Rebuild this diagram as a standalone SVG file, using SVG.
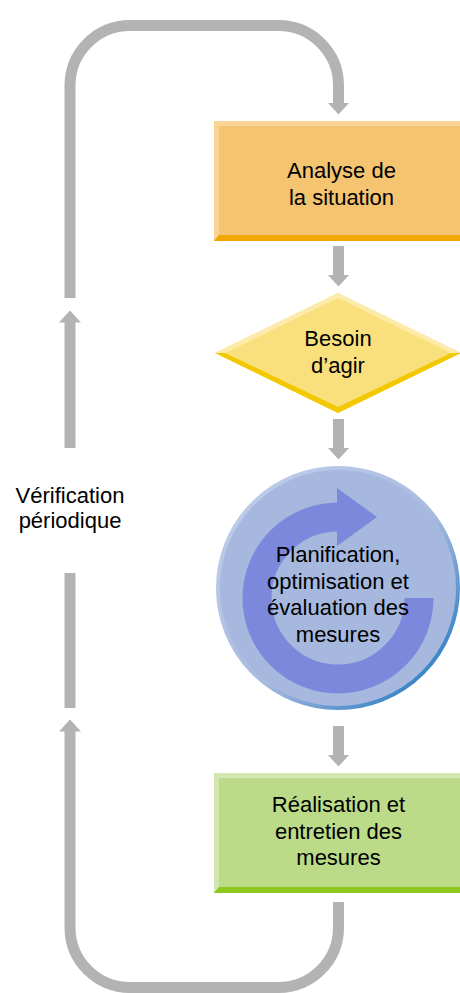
<svg xmlns="http://www.w3.org/2000/svg" width="460" height="993" viewBox="0 0 460 993">
  <style>
    .conn { fill: none; stroke: #B3B3B3; stroke-width: 11; stroke-linecap: butt; }
    .lbl { font-family: "Liberation Sans", Arial, sans-serif; font-size: 22px; fill: #000; text-anchor: middle; }
  </style>
  <defs>
    <marker id="ah" viewBox="0 0 12 22" refX="0.5" refY="11" markerWidth="12" markerHeight="22" markerUnits="userSpaceOnUse" orient="auto">
      <path d="M0,0 L12,11 L0,22 Z" fill="#B3B3B3"/>
    </marker>
    <linearGradient id="ringGrad" x1="0" y1="0" x2="1" y2="1">
      <stop offset="0" stop-color="#C3D0EC"/>
      <stop offset="0.55" stop-color="#A8BAE0"/>
      <stop offset="0.8" stop-color="#4F8FCB"/>
      <stop offset="1" stop-color="#0F6FB8"/>
    </linearGradient>
  </defs>

  <g id="connectors">
    <path class="conn" d="M70 298 V85.5 A60 60 0 0 1 130 25.5 H278.5 A60 60 0 0 1 338.5 85.5 V103" marker-end="url(#ah)"/>
    <path class="conn" d="M70 448 V322" marker-end="url(#ah)"/>
    <path class="conn" d="M70 573 V708"/>
    <path class="conn" d="M338.5 902 V927.5 A60 60 0 0 1 278.5 987.5 H130 A60 60 0 0 1 70 927.5 V731" marker-end="url(#ah)"/>
    <path class="conn" d="M338.5 246 V275" marker-end="url(#ah)"/>
    <path class="conn" d="M338.5 419 V448" marker-end="url(#ah)"/>
    <path class="conn" d="M338.5 726 V755" marker-end="url(#ah)"/>
  </g>

  <g id="label-verification">
    <text class="lbl" x="70" y="502.5">Vérification</text>
    <text class="lbl" x="70" y="528">périodique</text>
  </g>

  <g id="analyse">
    <rect x="214" y="121" width="254" height="120" fill="#F5C470"/>
    <polygon points="214,121 468,121 463,126 219,126" fill="#F9D698"/>
    <polygon points="214,121 219,126 219,235 214,241" fill="#F8D392"/>
    <polygon points="214,241 219,235 463,235 468,241" fill="#EFA800"/>
    <text class="lbl" x="341.5" y="178">Analyse de</text>
    <text class="lbl" x="341.5" y="204.5">la situation</text>
  </g>

  <g id="besoin">
    <polygon points="215,353 338,293 461,353 338,413" fill="#FAE07C"/>
    <polygon points="215,353 338,293 461,353 451,353 338,298 225,353" fill="#FCEBAA"/>
    <polygon points="215,353 225,353 338,407 451,353 461,353 338,413" fill="#F2C900"/>
    <text class="lbl" x="338" y="346">Besoin</text>
    <text class="lbl" x="338" y="372.5">d’agir</text>
  </g>

  <g id="planification">
    <circle cx="338" cy="588" r="120" fill="#A6B8DE" stroke="url(#ringGrad)" stroke-width="4"/>
    <path d="M419 598 A81 81 0 1 1 338 517" fill="none" stroke="#7B88DC" stroke-width="29"/>
    <polygon points="337,488 377,517 337,546" fill="#7B88DC"/>
    <text class="lbl" x="338" y="562">Planification,</text>
    <text class="lbl" x="338" y="588.5">optimisation et</text>
    <text class="lbl" x="338" y="615">évaluation des</text>
    <text class="lbl" x="338" y="641.5">mesures</text>
  </g>

  <g id="realisation">
    <rect x="214" y="773" width="254" height="120" fill="#BCDB89"/>
    <polygon points="214,773 468,773 463,778 219,778" fill="#D4E8B3"/>
    <polygon points="214,773 219,778 219,887 214,893" fill="#D2E7B0"/>
    <polygon points="214,893 219,887 463,887 468,893" fill="#8DC81F"/>
    <text class="lbl" x="338.5" y="812">Réalisation et</text>
    <text class="lbl" x="338.5" y="838.5">entretien des</text>
    <text class="lbl" x="338.5" y="865">mesures</text>
  </g>
</svg>
